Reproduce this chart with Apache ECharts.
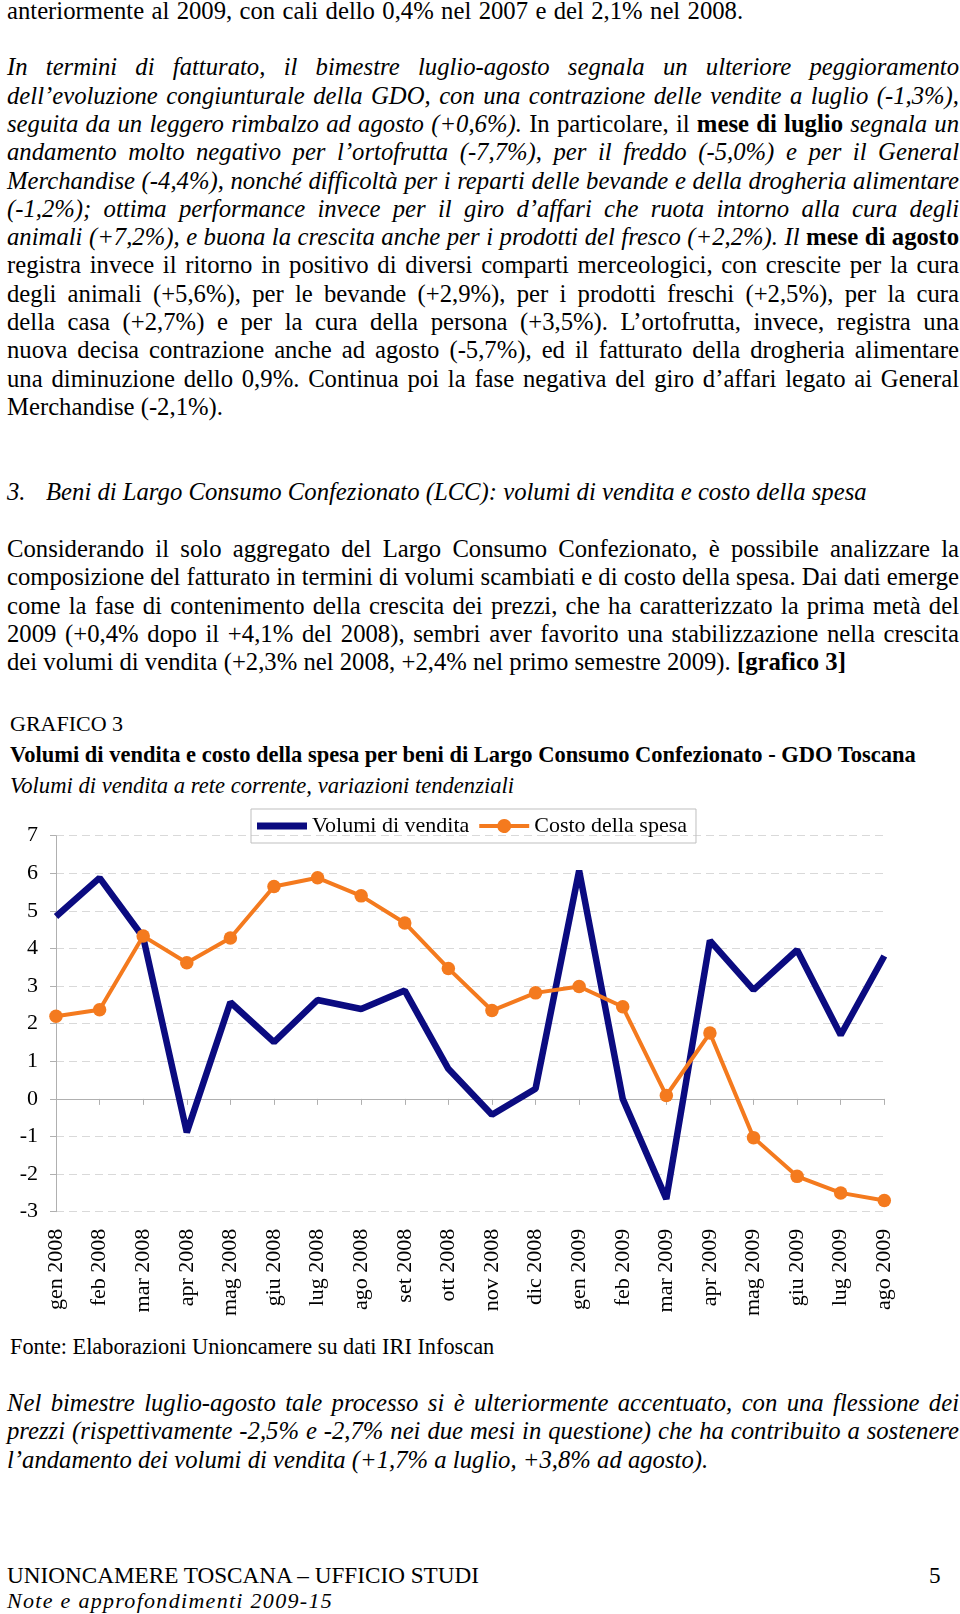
<!DOCTYPE html>
<html><head><meta charset="utf-8">
<script src="https://cdn.jsdelivr.net/npm/echarts@6/dist/echarts.min.js"></script>
<style>
html,body{margin:0;padding:0;background:#fff}
body{width:960px;height:1614px;position:relative;overflow:hidden;font-family:"Liberation Serif","Times New Roman",serif;color:#000}
.l{position:absolute;left:7px;width:952px;font-size:24.7px;line-height:28px;white-space:nowrap}
.j{text-align:justify;text-align-last:justify;white-space:normal;word-spacing:-4px}
.i{font-style:italic}
.s{font-size:22px}
#chart{position:absolute;left:0;top:800px;width:960px;height:520px}
</style></head>
<body>
<div class="l" style="top:-3px;word-spacing:1.2px">anteriormente al 2009, con cali dello 0,4% nel 2007 e del 2,1% nel 2008.</div>

<div class="l j i" style="top:53.4px">In termini di fatturato, il bimestre luglio-agosto segnala un ulteriore peggioramento</div>
<div class="l j i" style="top:81.7px">dell’evoluzione congiunturale della GDO, con una contrazione delle vendite a luglio (-1,3%),</div>
<div class="l j" style="top:110px"><span class="i">seguita da un leggero rimbalzo ad agosto (+0,6%).</span> In particolare, il <b>mese di luglio</b> <span class="i">segnala un</span></div>
<div class="l j i" style="top:138.3px">andamento molto negativo per l’ortofrutta (-7,7%), per il freddo (-5,0%) e per il General</div>
<div class="l j i" style="top:166.6px">Merchandise (-4,4%), nonché difficoltà per i reparti delle bevande e della drogheria alimentare</div>
<div class="l j i" style="top:194.9px">(-1,2%); ottima performance invece per il giro d’affari che ruota intorno alla cura degli</div>
<div class="l j" style="top:223.2px"><span class="i">animali (+7,2%), e buona la crescita anche per i prodotti del fresco (+2,2%). Il</span> <b>mese di agosto</b></div>
<div class="l j" style="top:251.4px">registra invece il ritorno in positivo di diversi comparti merceologici, con crescite per la cura</div>
<div class="l j" style="top:279.7px">degli animali (+5,6%), per le bevande (+2,9%), per i prodotti freschi (+2,5%), per la cura</div>
<div class="l j" style="top:308px">della casa (+2,7%) e per la cura della persona (+3,5%). L’ortofrutta, invece, registra una</div>
<div class="l j" style="top:336.3px">nuova decisa contrazione anche ad agosto (-5,7%), ed il fatturato della drogheria alimentare</div>
<div class="l j" style="top:364.6px">una diminuzione dello 0,9%. Continua poi la fase negativa del giro d’affari legato ai General</div>
<div class="l" style="top:392.9px">Merchandise (-2,1%).</div>

<div class="l i" style="top:478.4px"><span style="position:absolute;left:0">3.</span><span style="position:absolute;left:39px">Beni di Largo Consumo Confezionato (LCC): volumi di vendita e costo della spesa</span></div>

<div class="l j" style="top:535px">Considerando il solo aggregato del Largo Consumo Confezionato, è possibile analizzare la</div>
<div class="l j" style="top:563.3px">composizione del fatturato in termini di volumi scambiati e di costo della spesa. Dai dati emerge</div>
<div class="l j" style="top:591.6px">come la fase di contenimento della crescita dei prezzi, che ha caratterizzato la prima metà del</div>
<div class="l j" style="top:619.9px">2009 (+0,4% dopo il +4,1% del 2008), sembri aver favorito una stabilizzazione nella crescita</div>
<div class="l" style="top:648.2px">dei volumi di vendita (+2,3% nel 2008, +2,4% nel primo semestre 2009). <b>[grafico 3]</b></div>

<div class="l s" style="top:709.8px;left:10px">GRAFICO 3</div>
<div class="l s" style="top:740.7px;left:10px;font-size:22.5px;font-weight:bold">Volumi di vendita e costo della spesa per beni di Largo Consumo Confezionato - GDO Toscana</div>
<div class="l s i" style="top:771.5px;left:10px;font-size:22.6px">Volumi di vendita a rete corrente, variazioni tendenziali</div>

<div id="chart"></div>

<div class="l s" style="top:1332.5px;left:10px;font-size:22.3px">Fonte: Elaborazioni Unioncamere su dati IRI Infoscan</div>

<div class="l j i" style="top:1388.9px">Nel bimestre luglio-agosto tale processo si è ulteriormente accentuato, con una flessione dei</div>
<div class="l j i" style="top:1417.2px">prezzi (rispettivamente -2,5% e -2,7% nei due mesi in questione) che ha contribuito a sostenere</div>
<div class="l i" style="top:1445.5px">l’andamento dei volumi di vendita (+1,7% a luglio, +3,8% ad agosto).</div>

<div class="l" style="top:1560.7px;font-size:23.2px">UNIONCAMERE TOSCANA – UFFICIO STUDI</div>
<div class="l" style="top:1560.7px;left:929px;width:20px;font-size:23.2px">5</div>
<div class="l i s" style="top:1586.5px;letter-spacing:1.3px">Note e approfondimenti 2009-15</div>

<script>
const categories = ['gen 2008','feb 2008','mar 2008','apr 2008','mag 2008','giu 2008','lug 2008','ago 2008','set 2008','ott 2008','nov 2008','dic 2008','gen 2009','feb 2009','mar 2009','apr 2009','mag 2009','giu 2009','lug 2009','ago 2009'];
const volumiVendita = [4.85, 5.88, 4.3, -0.89, 2.57, 1.51, 2.63, 2.39, 2.88, 0.80, -0.42, 0.27, 6.07, 0.0, -2.66, 4.21, 2.90, 3.96, 1.7, 3.8];
const costoSpesa = [2.2, 2.37, 4.33, 3.62, 4.28, 5.65, 5.88, 5.40, 4.68, 3.47, 2.35, 2.82, 2.99, 2.45, 0.09, 1.75, -1.03, -2.06, -2.5, -2.7];
const seriesNames = ['Volumi di vendita', 'Costo della spesa'];
const yTicks = {min: -3, max: 7, step: 1};

const FONT = 'Liberation Serif';
const BLUE = '#0b0b80';
const ORANGE = '#f47a1e';
const AXIS = '#b0b0b0';

const ICON_LINE = 'path://M0,0H50V7H0Z';
const ICON_LINE_DOT = 'path://M0,5H18.29A7,7,0,0,1,31.71,5H50V9H31.71A7,7,0,0,1,18.29,9H0Z';

const chart = echarts.init(document.getElementById('chart'), null, {renderer: 'canvas'});
chart.setOption({
  animation: false,
  textStyle: {fontFamily: FONT, color: '#000'},
  legend: {
    data: [
      {name: seriesNames[0], icon: ICON_LINE, itemStyle: {color: BLUE}},
      {name: seriesNames[1], icon: ICON_LINE_DOT, itemStyle: {color: ORANGE}}
    ],
    left: 251, top: 9,
    orient: 'horizontal',
    itemWidth: 50, itemHeight: 14, itemGap: 10,
    padding: [6, 9, 6, 6],
    borderColor: '#bfbfbf', borderWidth: 1,
    textStyle: {fontFamily: FONT, fontSize: 22, color: '#000'}
  },
  grid: {left: 56, right: 75.7, top: 35.7, height: 376, containLabel: false},
  xAxis: [
    {
      type: 'category', data: categories, boundaryGap: false, position: 'bottom',
      axisLine: {show: false, onZero: false}, axisTick: {show: false},
      axisLabel: {rotate: 90, margin: 17, fontSize: 22, color: '#000', fontFamily: FONT, interval: 0},
      splitLine: {show: false}
    },
    {
      type: 'category', data: categories, boundaryGap: false, position: 'bottom',
      axisLine: {show: true, onZero: true, lineStyle: {color: AXIS, width: 1}},
      axisTick: {show: true, length: 6, interval: 0, lineStyle: {color: AXIS}},
      axisLabel: {show: false}, splitLine: {show: false}
    }
  ],
  yAxis: {
    type: 'value', min: yTicks.min, max: yTicks.max, interval: yTicks.step,
    axisLine: {show: true, lineStyle: {color: AXIS, width: 1}},
    axisTick: {show: true, length: 6, lineStyle: {color: AXIS}},
    axisLabel: {fontSize: 22, color: '#000', margin: 18, fontFamily: FONT},
    splitLine: {show: true, lineStyle: {type: [8, 5], color: '#d9d9d9', width: 1}}
  },
  series: [
    {
      name: seriesNames[0], type: 'line', data: volumiVendita, xAxisIndex: 0,
      symbol: 'none', lineStyle: {color: BLUE, width: 6.5}, itemStyle: {color: BLUE}, z: 2
    },
    {
      name: seriesNames[1], type: 'line', data: costoSpesa, xAxisIndex: 0,
      symbol: 'circle', symbolSize: 13.5, lineStyle: {color: ORANGE, width: 4}, itemStyle: {color: ORANGE}, z: 3
    }
  ]
});
</script>
</body></html>
